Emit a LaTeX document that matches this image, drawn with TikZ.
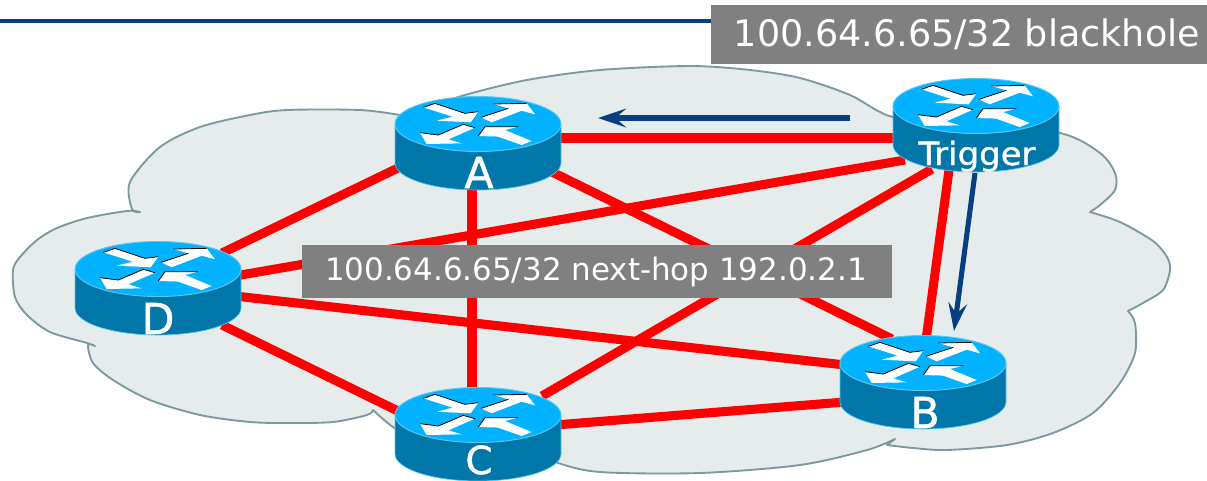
\documentclass[tikz,border=0pt]{standalone}
\usepackage{fontspec}
\setmainfont{DejaVu Sans}
\newfontfamily\routerfont[FakeBold=1.2]{DejaVu Sans}
\usetikzlibrary{arrows.meta}
\definecolor{cloudfill}{HTML}{E6EBEC}
\definecolor{cloudline}{HTML}{7A9A9E}
\definecolor{rtop}{HTML}{00B2FF}
\definecolor{rside}{HTML}{0077A8}
\definecolor{redge}{HTML}{5CC8F0}
\definecolor{navy}{HTML}{073F80}
\definecolor{boxgray}{HTML}{808080}
\tikzset{
  x=0.75pt,y=-0.75pt,
  cloudpath/.style={fill=cloudfill,draw=cloudline,line width=1.4pt,line join=round},
  link/.style={draw=red,line width=6.8pt},
  flow/.style={draw=navy,line width=3.8pt,-{Stealth[length=21pt,width=14pt,inset=8pt]}},
  graybox/.style={fill=boxgray,inner sep=0pt,text=white,anchor=north west},
  rlabel/.style={text=white,inner sep=0pt,anchor=base},
  pics/router/.style={code={
    \path[fill=rside,draw=redge,line width=0.5pt] (-83,1) -- (-83,39)
      arc[start angle=180,end angle=0,x radius=83,y radius=27] -- (83,1) -- cycle;
    \path[fill=rtop,draw=redge,line width=0.7pt] (0,0) ellipse [x radius=83,y radius=27.5];
    \begin{scope}[scale=1/3]
      \fill[white] (-164,-50)--(-129,-62)--(-39,-32)--(1,-37)--(-22,-5)--(-124,-10)--(-76,-22)--cycle;
      \fill[white] (9,-20)--(91,-47)--(46,-60)--(146,-62)--(171,-29)--(131,-40)--(41,-5)--cycle;
      \fill[white] (-174,26)--(-119,33)--(-44,1)--(-9,11)--(-89,46)--(-49,58)--(-154,60)--cycle;
      \fill[white] (1,36)--(21,8)--(121,8)--(81,18)--(161,51)--(131,63)--(46,33)--(71,38)--cycle;
      \draw[black,line width=0.6pt] (-164,-50)--(-129,-62)--(-39,-32)--(1,-37);
      \draw[black,line width=0.6pt] (9,-20)--(91,-47) (46,-60)--(146,-62);
      \draw[black,line width=0.6pt] (-174,26)--(-119,33)--(-44,1)--(-9,11);
      \draw[black,line width=0.6pt] (1,36)--(21,8)--(121,8);
    \end{scope}
  }},
}
\begin{document}
\begin{tikzpicture}
\useasboundingbox (0,0) rectangle (1207,480);
\clip (0,0) rectangle (1207,480);
\fill[white] (0,0) rectangle (1207,480);

% heading rule
\coordinate (ruleL) at (0,21);
\coordinate (ruleR) at (720,21);
\draw[navy,line width=3.2pt] (ruleL) -- (ruleR);

% cloud
\path[cloudpath]
  plot[smooth,tension=0.5] coordinates {(140,212)(132,209)(130,182)(160,147)(200,127)(250,115)(287,110)(360,110)(400,115)}
  -- plot[smooth,tension=0.5] coordinates {(400,116)(465,95)(527,80)(600,70)(690,66)(750,70)(800,78)(850,95)(893,117)(960,120)(1060,133)(1100,153)(1115,173)(1115,190)(1100,205)(1090,212)}
  -- plot[smooth,tension=0.5] coordinates {(1090,212)(1120,222)(1153,241)(1167,257)(1170,270)(1163,290)(1143,303)(1128,311)}
  -- plot[smooth,tension=0.5] coordinates {(1128,311)(1135,323)(1135,353)(1120,383)(1093,413)(1053,433)(1007,445)(947,450)(913,448)(887,445)}
  -- (895,439)
  -- plot[smooth,tension=0.5] coordinates {(895,439)(867,450)(800,465)(700,473)(600,472)(555,462)(500,440)(420,440)(393,427)(373,410)}
  -- plot[smooth,tension=0.5] coordinates {(373,410)(367,415)(333,422)(290,423)(250,422)(200,415)(150,400)(113,380)(93,363)(88,345)(95,346)}
  -- plot[smooth,tension=0.5] coordinates {(95,346)(87,343)(50,332)(27,315)(15,297)(13,270)(20,257)(37,240)(57,228)(87,218)(127,211)(140,212)}
  -- cycle;

% link end points
\coordinate (Ae) at (555,138);
\coordinate (Te) at (900,138);
\coordinate (Aw) at (398,168);
\coordinate (Dn) at (222,253);
\coordinate (As) at (472,185);
\coordinate (Cn) at (472,395);
\coordinate (Ase) at (552,172);
\coordinate (Bnw) at (892,339);
\coordinate (Tw) at (905,160);
\coordinate (De) at (235,276);
\coordinate (Tsw) at (932,169);
\coordinate (Cne) at (542,396);
\coordinate (Ts) at (949,170);
\coordinate (Bn) at (926,340);
\coordinate (Dse) at (235,296);
\coordinate (Bw) at (845,365);
\coordinate (Ds) at (222,325);
\coordinate (Cw) at (400,412);
\coordinate (Ce) at (555,425);
\coordinate (Bsw) at (845,402);

\draw[link] (Ae) -- (Te);
\draw[link] (Aw) -- (Dn);
\draw[link] (As) -- (Cn);
\draw[link] (Ase) -- (Bnw);
\draw[link] (Tw) -- (De);
\draw[link] (Tsw) -- (Cne);
\draw[link] (Ts) -- (Bn);
\draw[link] (Dse) -- (Bw);
\draw[link] (Ds) -- (Cw);
\draw[link] (Ce) -- (Bsw);

% routers
\pic at (478,124) {router};
\pic at (976,106) {router};
\pic at (923,363) {router};
\pic at (158,269) {router};
\pic at (478,415) {router};

\node[rlabel,font=\routerfont\fontsize{32pt}{32pt}\selectfont] (lblA) at (479,188) {A};
\node[rlabel,font=\routerfont\fontsize{32pt}{32pt}\selectfont] (lblB) at (925,428) {B};
\node[rlabel,font=\routerfont\fontsize{29pt}{29pt}\selectfont] (lblC) at (479,474) {C};
\node[rlabel,font=\routerfont\fontsize{32pt}{32pt}\selectfont] (lblD) at (158,334) {D};
\node[rlabel,font=\routerfont\fontsize{24pt}{24pt}\selectfont,xscale=1.06] (lblT) at (977,165) {Trigger};

% flows
\coordinate (f1a) at (850,118);
\coordinate (f1b) at (598,118);
\coordinate (f2a) at (975,173);
\coordinate (f2b) at (954,331);
\draw[flow] (f1a) -- (f1b);
\draw[flow] (f2a) -- (f2b);

% text boxes
\node[graybox,minimum width=442pt,minimum height=39.75pt] (ann) at (302,245) {};
\node[text=white,inner sep=0pt,font=\fontsize{23.2pt}{23.2pt}\selectfont] (annT) at (596,272) {100.64.6.65/32 next-hop 192.0.2.1};
\node[graybox,minimum width=372pt,minimum height=44.25pt] (top) at (711,5) {};
\node[text=white,inner sep=0pt,font=\fontsize{27.4pt}{27.4pt}\selectfont] (topT) at (967,34) {100.64.6.65/32 blackhole};
\end{tikzpicture}
\end{document}
